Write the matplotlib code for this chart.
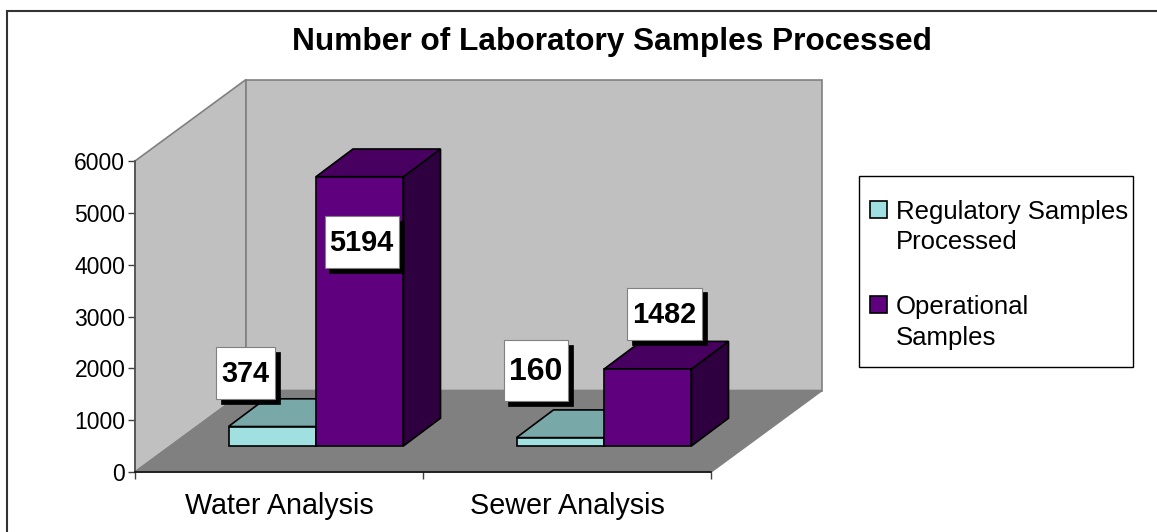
import matplotlib
matplotlib.use("Agg")
import matplotlib.pyplot as plt
from matplotlib.patches import Polygon, Rectangle

categories = ["Water Analysis", "Sewer Analysis"]
series_names = ["Regulatory Samples\nProcessed", "Operational\nSamples"]
regulatory = [374, 160]
operational = [5194, 1482]
y_ticks = [0, 1000, 2000, 3000, 4000, 5000, 6000]
title = "Number of Laboratory Samples Processed"

W, H = 1157, 532
plt.rcParams['font.family'] = ['Liberation Sans', 'DejaVu Sans']
fig = plt.figure(figsize=(W / 100, H / 100), dpi=100, facecolor='white')
def px_axes(x0, y0, x1, y1):
    return fig.add_axes([x0 / W, 1 - y1 / H, (x1 - x0) / W, (y1 - y0) / H])

ax = px_axes(135, 161, 711, 472)
ax.set_xlim(0, 2)
ax.set_ylim(0, 6000)
ax.patch.set_visible(False)
ax.set_zorder(2)

DX = 111 / 288
DY = 81.5 / 311 * 6000
BW = 87.5 / 288
GAP = (1 - 2 * BW) / 2
EDGE = '#000000'

def poly(pts, fc, ec, lw=1.2, z=3):
    ax.add_patch(Polygon(pts, closed=True, facecolor=fc, edgecolor=ec, linewidth=lw,
                         zorder=z, clip_on=False, joinstyle='miter'))

wall = '#C0C0C0'
floor = '#808080'
grey = '#808080'
poly([(0, 0), (DX, DY), (DX, 6000 + DY), (0, 6000)], wall, grey, 1.2, 1)
poly([(DX, DY), (2 + DX, DY), (2 + DX, 6000 + DY), (DX, 6000 + DY)], wall, grey, 1.2, 1)
poly([(0, 0), (2, 0), (2 + DX, DY), (DX, DY)], floor, grey, 1.2, 1.5)

def bar3d(x, v, front, top, side, z):
    ox, oy = DX / 3, DY * 0.32
    dx, dy = DX / 3, DY * 0.34
    l, r = x + ox, x + BW + ox
    b, t = oy, oy + v
    poly([(r, b), (r + dx, b + dy), (r + dx, t + dy), (r, t)], side, EDGE, 1.2, z)
    poly([(l, t), (r, t), (r + dx, t + dy), (l + dx, t + dy)], top, EDGE, 1.2, z)
    poly([(l, b), (r, b), (r, t), (l, t)], front, EDGE, 1.2, z)

for i in range(2):
    bar3d(i + GAP, regulatory[i], '#A0E0E0', '#78A8A8', '#507070', 3)
    bar3d(i + GAP + BW, operational[i], '#5F007F', '#47005F', '#2F003F', 4)

ax.spines[['top', 'right']].set_visible(False)
ax.spines['left'].set_linewidth(1.2)
ax.spines['left'].set_color('#505050')
ax.spines['left'].set_zorder(5)
ax.spines['bottom'].set_linewidth(1.2)
ax.spines['bottom'].set_color('#101010')
ax.spines['bottom'].set_zorder(5)
ax.set_yticks(y_ticks)
ax.set_xticks([0, 1, 2])
ax.set_xticklabels([])
ax.set_xticks([0.5, 1.5], minor=True)
ax.set_xticklabels(categories, minor=True, fontsize=20.7, color='black')
ax.tick_params(axis='x', which='minor', length=0, pad=14.5)
ax.tick_params(axis='x', which='major', length=5, width=1, color='#404040', pad=2)
ax.tick_params(axis='y', length=5, width=1, color='#404040', labelsize=16.5, pad=2)

# data labels with hard shadow, placed as in the reference (pixel boxes)
label_boxes = [(216, 347, 275, 399), (324.5, 216, 399, 268), (503.5, 340, 568, 401), (627, 287.5, 702, 340)]
label_vals = [regulatory[0], operational[0], regulatory[1], operational[1]]
label_sizes = [20.8, 20.8, 23, 20.8]
ov = fig.add_axes([0, 0, 1, 1])
ov.set_xlim(0, W)
ov.set_ylim(H, 0)
ov.axis('off')
ov.set_zorder(6)
ov.patch.set_visible(False)
for (x0, y0, x1, y1), v, fs in zip(label_boxes, label_vals, label_sizes):
    ov.add_patch(Rectangle((x0 + 4.5, y0 + 4.5), x1 - x0, y1 - y0, facecolor='black', edgecolor='black', lw=0.5))
    ov.add_patch(Rectangle((x0, y0), x1 - x0, y1 - y0, facecolor='white', edgecolor='#808080', lw=0.8))
    ov.text((x0 + x1) / 2, (y0 + y1) / 2 + 1, str(v), ha='center', va='center',
            fontsize=fs, fontweight='bold', color='black')

# chart frame: only its top and left edges fall inside the picture
ov.plot([W, 6.5, 6.5], [11, 11, H], color='#333333', lw=1.5, solid_joinstyle='miter', clip_on=False)
ov.text(612, 42, title, ha='center', va='center', fontsize=22.8, fontweight='bold', color='black')

# legend
ov.add_patch(Rectangle((859, 175.5), 273.5, 191.5, facecolor='white', edgecolor='black', lw=1))
for y, name, col, ty in [(201, series_names[0], '#A0E0E0', 227), (295.5, series_names[1], '#5F007F', 322.5)]:
    ov.add_patch(Rectangle((869.5, y), 17, 17, facecolor=col, edgecolor='black', lw=1.2))
    ov.text(896, ty, name, ha='left', va='center', fontsize=18.5, color='black', linespacing=1.33)

fig.savefig('out.png', dpi=100, facecolor='white')
